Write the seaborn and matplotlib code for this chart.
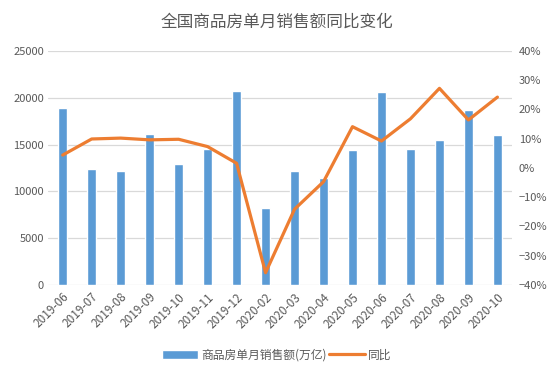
import numpy as np
import pandas as pd
import seaborn as sns
import matplotlib.pyplot as plt

months = ['2019-06', '2019-07', '2019-08', '2019-09', '2019-10', '2019-11', '2019-12',
          '2020-02', '2020-03', '2020-04', '2020-05', '2020-06', '2020-07', '2020-08',
          '2020-09', '2020-10']
sales = [18900, 12400, 12200, 16100, 12900, 14500, 20700,
         8200, 12200, 11400, 14400, 20600, 14500, 15500, 18700, 16000]
yoy = [4.4, 9.9, 10.2, 9.6, 9.8, 7.3, 1.6,
       -35.8, -14.1, -4.7, 14.1, 9.2, 16.8, 27.2, 16.4, 24.2]

df = pd.DataFrame({'month': months, 'sales': sales, 'yoy': yoy})
df['pos'] = np.arange(len(df))

sns.set_style('white')
plt.rcParams['font.family'] = ['Noto Sans CJK SC', 'DejaVu Sans']
plt.rcParams['axes.unicode_minus'] = True

gray = '#595959'
fig = plt.figure(figsize=(5.54, 3.77), dpi=100)
ax = fig.add_axes([0.087, 0.244, 0.837, 0.621])

sns.barplot(x='month', y='sales', data=df, color='#5B9BD5', width=0.31,
            saturation=1, ax=ax, label='商品房单月销售额(万亿)')
ax.set_ylim(0, 25000)
ax.set_yticks(range(0, 25001, 5000))
ax.set_xlim(-0.5, len(df) - 0.5)
ax.set_xlabel('')
ax.set_ylabel('')
ax.grid(axis='y', color='#D9D9D9', linewidth=0.9)
ax.set_axisbelow(True)
for s in ax.spines.values():
    s.set_visible(False)
ax.tick_params(axis='y', length=0, labelsize=8, labelcolor=gray, pad=3)
ax.tick_params(axis='x', length=0, labelsize=8.5, labelcolor=gray, pad=4)
ax.set_xticks(df['pos'])
ax.set_xticklabels(df['month'], rotation=45, ha='right', rotation_mode='anchor')
if ax.get_legend():
    ax.get_legend().remove()

ax2 = ax.twinx()
sns.lineplot(x='pos', y='yoy', data=df, color='#ED7D31', linewidth=2.3, ax=ax2,
             label='同比')
ax2.set_ylim(-40, 40)
ax2.set_yticks(range(-40, 41, 10))
ax2.set_yticklabels([f'{v}%'.replace('-', '\u2212') for v in range(-40, 41, 10)])
ax2.set_ylabel('')
for s in ax2.spines.values():
    s.set_visible(False)
ax2.tick_params(axis='y', length=0, labelsize=8, labelcolor=gray, pad=5)
ax2.get_legend().remove()

h1, l1 = ax.get_legend_handles_labels()
h2, l2 = ax2.get_legend_handles_labels()
fig.legend(h1 + h2, l1 + l2, loc='center', bbox_to_anchor=(0.5, 0.058), ncol=2,
           frameon=False, fontsize=8.5, labelcolor=gray, handlelength=3.0,
           handleheight=0.9, handletextpad=0.3, columnspacing=0.2)

fig.suptitle('全国商品房单月销售额同比变化', x=0.5, y=0.965, fontsize=12, color=gray)

fig.savefig('out.png', dpi=100)
